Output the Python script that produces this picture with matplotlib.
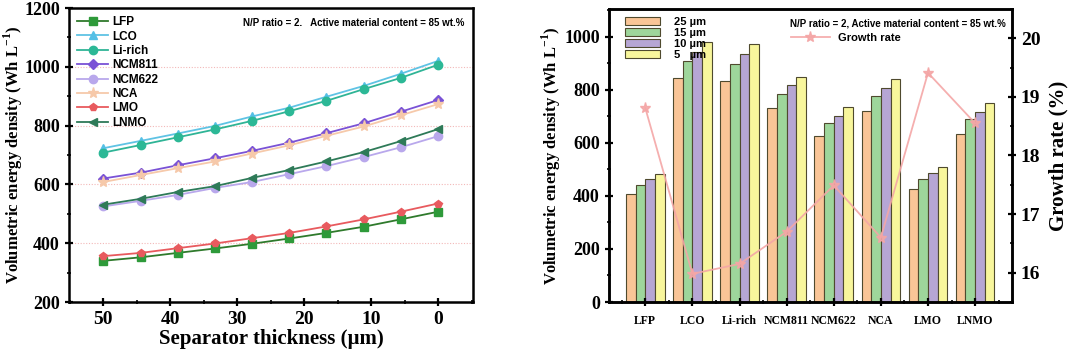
import matplotlib.pyplot as plt
import numpy as np
from matplotlib.ticker import MultipleLocator

# separator thickness sweep (um)
thickness = [50, 44.4, 38.9, 33.3, 27.8, 22.2, 16.7, 11.1, 5.6, 0]

lfp = [340, 352, 367, 382, 398, 416, 435, 456, 481, 507]
lco = [723, 748, 773, 799, 831, 861, 898, 935, 976, 1020]
li_rich = [708, 734, 760, 787, 816, 849, 884, 924, 962, 1007]
ncm811 = [620, 640, 665, 689, 714, 742, 774, 808, 847, 887]
ncm622 = [525, 544, 564, 588, 608, 635, 662, 693, 726, 764]
nca = [608, 632, 655, 678, 705, 733, 765, 797, 835, 873]
lmo = [356, 367, 383, 399, 417, 435, 457, 481, 507, 535]
lnmo = [531, 551, 574, 594, 622, 649, 678, 710, 747, 788]

# bar chart data
materials = ['LFP', 'LCO', 'Li-rich', 'NCM811', 'NCM622', 'NCA', 'LMO', 'LNMO']
sep_labels = ['25 µm', '15 µm', '10 µm', '5   µm']
bar_25 = [407, 846, 835, 731, 625, 721, 426, 634]
bar_15 = [441, 909, 898, 786, 674, 775, 463, 689]
bar_10 = [463, 943, 935, 818, 702, 806, 486, 718]
bar_5 = [484, 982, 971, 850, 735, 840, 508, 750]
growth_rate = [18.81, 15.98, 16.15, 16.70, 17.49, 16.60, 19.41, 18.55]

serif = 'Liberation Serif'
sans = 'Liberation Sans'
plt.rcParams['mathtext.fontset'] = 'custom'
plt.rcParams['mathtext.rm'] = 'Liberation Serif:bold'
plt.rcParams['mathtext.bf'] = 'Liberation Serif:bold'

fig = plt.figure(figsize=(10.8, 3.51), dpi=100)
ax1 = fig.add_axes([0.0639, 0.1396, 0.374, 0.8376])
ax2 = fig.add_axes([0.5639, 0.1396, 0.373, 0.835])

ylab = 'Volumetric energy density (Wh L$^{\\mathbf{-1}}$)'


def style_axis(ax, size=13):
  for sp in ax.spines.values():
    sp.set_linewidth(1.8)
  ax.tick_params(which='major', direction='inout', length=6, width=1.6, labelsize=size)
  ax.tick_params(which='minor', direction='inout', length=3, width=1.2)
  for lab in ax.get_xticklabels() + ax.get_yticklabels():
    lab.set_fontfamily(serif)
    lab.set_fontweight('bold')


# ---- left panel: lines
series = [
  ('LFP', lfp, '#2f7a2c', '#2e9a3a', 's'),
  ('LCO', lco, '#5fc3e4', '#55c0e6', '^'),
  ('Li-rich', li_rich, '#2fb496', '#2cb896', 'o'),
  ('NCM811', ncm811, '#7a52d6', '#7a52d6', 'D'),
  ('NCM622', ncm622, '#b9a8ec', '#b9a8ec', 'o'),
  ('NCA', nca, '#f6c9aa', '#f6c9aa', '*'),
  ('LMO', lmo, '#e85a5e', '#e85a5e', 'p'),
  ('LNMO', lnmo, '#2e7a58', '#2e7a58', '<'),
]
for name, vals, lc, mc, mk in series:
  ms = 8 if mk == '*' else 6
  if mk == 'D':
    ms = 5
  ax1.plot(thickness, vals, color=lc, marker=mk, markersize=ms,
           markerfacecolor=mc, markeredgecolor=mc, linewidth=1.3, label=name)

for yv in [400, 600, 800, 1000]:
  ax1.axhline(yv, color='#f3b8b8', linestyle=(0, (1, 1.5)), linewidth=0.8, zorder=0)

ax1.set_xlim(55.1, -5.2)
ax1.set_ylim(200, 1200)
ax1.xaxis.set_major_locator(MultipleLocator(10))
ax1.xaxis.set_minor_locator(MultipleLocator(5))
ax1.yaxis.set_major_locator(MultipleLocator(200))
ax1.yaxis.set_minor_locator(MultipleLocator(100))
style_axis(ax1)
ax1.tick_params(axis='x', which='major', labelsize=14)
ax1.set_xlabel('Separator thickness (µm)', fontfamily=serif, fontweight='bold',
               fontsize=15, labelpad=1)
ax1.set_ylabel(ylab, fontfamily=serif, fontweight='bold', fontsize=12)
ax1.yaxis.set_label_coords(-0.11, 0.5)
ax1.legend(loc='upper left', frameon=False, prop={'family': sans, 'weight': 'bold', 'size': 8.5},
           handlelength=2.6, labelspacing=0.2, borderaxespad=0.3, handletextpad=0.4)
ax1.text(0.98, 0.95, 'N/P ratio = 2.   Active material content = 85 wt.%',
         transform=ax1.transAxes, ha='right', va='center', fontfamily=sans,
         fontweight='bold', fontsize=7)

# ---- right panel: bars + growth rate
x = np.arange(len(materials))
w = 0.205
bar_colors = ['#f9c597', '#9ed69b', '#b6a6d4', '#f8f69c']
bar_sets = [bar_25, bar_15, bar_10, bar_5]
handles = []
for i, (vals, col, lab) in enumerate(zip(bar_sets, bar_colors, sep_labels)):
  h = ax2.bar(x + (i - 1.5) * w, vals, width=w, color=col, edgecolor='#4f4a2e',
              linewidth=0.8, label=lab)
  handles.append(h)

ax2.set_xlim(-0.77, 7.78)
ax2.set_ylim(0, 1105)
ax2.set_xticks(x)
ax2.set_xticklabels(materials)
ax2.xaxis.set_minor_locator(MultipleLocator(0.5))
ax2.yaxis.set_major_locator(MultipleLocator(200))
ax2.yaxis.set_minor_locator(MultipleLocator(100))
style_axis(ax2)
ax2.tick_params(axis='x', which='major', labelsize=8.5, pad=6)
ax2.set_ylabel(ylab, fontfamily=serif, fontweight='bold', fontsize=12)
ax2.yaxis.set_label_coords(-0.115, 0.5)

ax3 = ax2.twinx()
ln, = ax3.plot(x, growth_rate, color='#f4a6a6', marker='*', markersize=8, linewidth=1.3,
               alpha=0.9, label='Growth rate')
ax3.set_ylim(15.5, 20.5)
ax3.yaxis.set_major_locator(MultipleLocator(1))
ax3.yaxis.set_minor_locator(MultipleLocator(0.5))
style_axis(ax3, size=14)
ax3.set_ylabel('Growth rate (%)', fontfamily=serif, fontweight='bold', fontsize=15, labelpad=6)

ax2.legend(handles=handles, loc='upper left', frameon=False,
           prop={'family': sans, 'weight': 'bold', 'size': 8},
           handlelength=3.2, handleheight=0.7, labelspacing=0.1,
           borderaxespad=0.3, bbox_to_anchor=(0.02, 1.0), handletextpad=1.2)
ax3.legend(handles=[ln], loc='center left', frameon=False,
           prop={'family': sans, 'weight': 'bold', 'size': 8},
           bbox_to_anchor=(0.44, 0.90), handlelength=3.5, borderaxespad=0)
ax3.text(0.985, 0.949, 'N/P ratio = 2, Active material content = 85 wt.%',
         transform=ax3.transAxes, ha='right', va='center', fontfamily=sans,
         fontweight='bold', fontsize=7)

fig.savefig('out.png', dpi=100)
